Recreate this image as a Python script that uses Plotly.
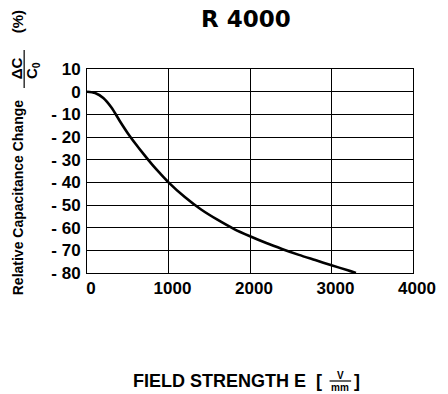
import plotly.graph_objects as go

# ---- data ----
field_strength = [0, 100, 200, 300, 400, 500, 600, 700, 800, 900, 1000, 1200, 1400,
                  1600, 1800, 2000, 2200, 2400, 2600, 2800, 3000, 3200, 3300]
cap_change = [0, -0.6, -2.8, -7, -12.8, -18.3, -23.2, -27.8, -32.2, -36.2, -40, -46.5, -52,
              -56.5, -60.5, -63.8, -66.8, -69.5, -72, -74.3, -76.6, -78.8, -80]
y_tickvals = [10, 0, -10, -20, -30, -40, -50, -60, -70, -80]
y_ticktext = ["10", "0", "- 10", "- 20", "- 30", "- 40", "- 50", "- 60", "- 70", "- 80"]
x_tickvals = [0, 1000, 2000, 3000, 4000]
x_ticktext = ["0", "1000", "2000", "3000", "4000"]

W, H = 448, 394
L, R, T, B = 87, 29, 69, 121
PW, PH = W - L - R, H - T - B

def px(xp):
    return (xp - L) / PW

def py(yp):
    return (H - B - yp) / PH

FONT = "Liberation Sans, Arial, sans-serif"

fig = go.Figure()
fig.add_trace(go.Scatter(x=field_strength, y=cap_change, mode="lines",
                         line=dict(color="black", width=2.6, shape="spline", smoothing=0.8),
                         hoverinfo="skip", showlegend=False, cliponaxis=False))

fig.update_layout(
    width=W, height=H, margin=dict(l=L, r=R, t=T, b=B),
    paper_bgcolor="white", plot_bgcolor="white",
    font=dict(family=FONT, color="black"),
    xaxis=dict(range=[0, 4000], tickvals=x_tickvals, ticktext=x_ticktext,
               showgrid=True, gridcolor="black", gridwidth=1,
               showline=True, linecolor="black", linewidth=1, mirror=True,
               zeroline=False, ticks="", ticklabelshift=4,
               tickfont=dict(family=FONT, size=17, color="black", weight="bold")),
    yaxis=dict(range=[-80, 10], tickvals=y_tickvals, ticktext=y_ticktext,
               showgrid=True, gridcolor="black", gridwidth=1,
               showline=True, linecolor="black", linewidth=1, mirror=True,
               zeroline=False, ticks="", ticklabelstandoff=2,
               tickfont=dict(family=FONT, size=17, color="black", weight="bold")),
)

anns = [
    dict(text="R 4000", x=px(249), y=py(19),
         font=dict(family="DejaVu Sans, sans-serif", size=23, weight="bold")),
    dict(text="Relative Capacitance Change", x=px(17), y=py(197), textangle=-90,
         font=dict(family=FONT, size=14, weight="bold")),
    dict(text="ΔC", x=px(15), y=py(68), textangle=-90,
         font=dict(family=FONT, size=15, weight="bold")),
    dict(text="C<sub>0</sub>", x=px(31), y=py(71), textangle=-90,
         font=dict(family=FONT, size=15, weight="bold")),
    dict(text="(%)", x=px(17), y=py(22), textangle=-90,
         font=dict(family=FONT, size=15, weight="bold")),
    dict(text="FIELD STRENGTH E  [", x=px(328), y=py(381), xanchor="right",
         font=dict(family=FONT, size=18, weight="bold")),
    dict(text="V", x=px(345), y=py(375),
         font=dict(family=FONT, size=10, weight="bold")),
    dict(text="mm", x=px(345), y=py(387),
         font=dict(family=FONT, size=10, weight="bold")),
    dict(text="]", x=px(357), y=py(381), xanchor="left",
         font=dict(family=FONT, size=18, weight="bold")),
]
for a in anns:
    a.setdefault("xanchor", "center")
    fig.add_annotation(xref="paper", yref="paper", showarrow=False, yanchor="middle", **a)

fig.add_shape(type="line", xref="paper", yref="paper",
              x0=px(23), x1=px(23), y0=py(50), y1=py(88),
              line=dict(color="black", width=1.2))
fig.add_shape(type="line", xref="paper", yref="paper",
              x0=px(334), x1=px(356), y0=py(381), y1=py(381),
              line=dict(color="black", width=1.2))

fig.write_html("out.html", config={"displayModeBar": False, "staticPlot": True},
               post_script="document.body.style.margin='0';document.body.style.overflow='hidden';")
